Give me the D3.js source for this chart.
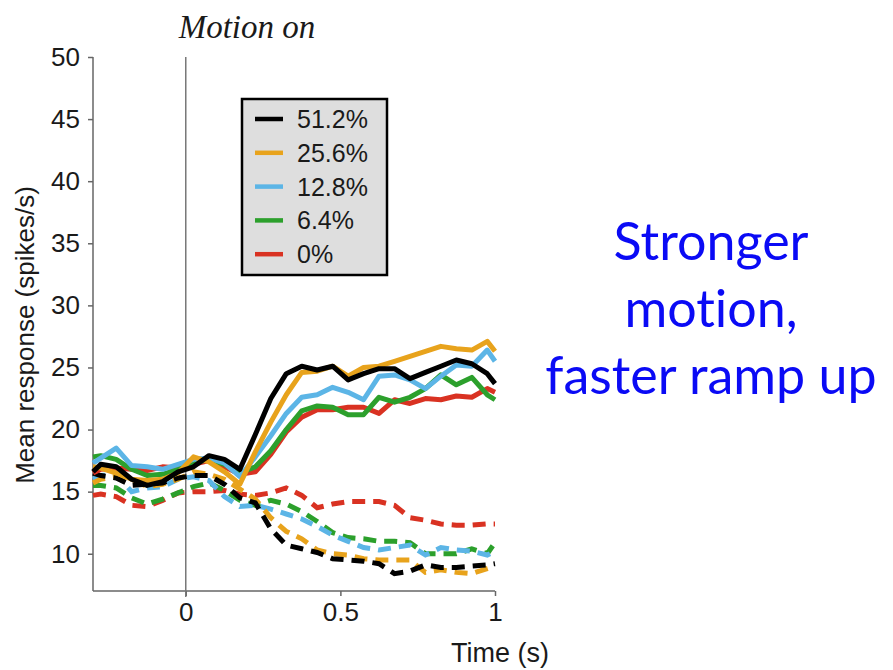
<!DOCTYPE html>
<html lang="en">
  <head>
    <meta charset="UTF-8" />
    <title>Motion on</title>
    <script src="https://cdn.jsdelivr.net/npm/d3@7"></script>
    <style>
      body { margin: 0; background: #fff; }
    </style>
  </head>
  <body>
    <svg id="svg" width="893" height="670"></svg>
    <script>
      // bin centres (s), plus the two ends of the window
      const times = [-0.3, -0.275, -0.225, -0.175, -0.125, -0.075, -0.025, 0.025, 0.075, 0.125,
        0.175, 0.225, 0.275, 0.325, 0.375, 0.425, 0.475, 0.525, 0.575, 0.625,
        0.675, 0.725, 0.775, 0.825, 0.875, 0.925, 0.975, 1.0];

      const coherences = ["51.2%", "25.6%", "12.8%", "6.4%", "0%"];
      const colors = ["#000000", "#e8a31c", "#5cb5e6", "#2ca02c", "#d93222"];

      // solid = preferred direction
      const pref512 = [16.6, 17.2, 17.0, 16.0, 15.5, 15.8, 16.6, 17.0, 17.9, 17.6, 16.8, 19.6, 22.5, 24.5,
        25.1, 24.8, 25.1, 24.0, 24.5, 24.9, 24.9, 24.1, 24.6, 25.1, 25.6, 25.3, 24.5, 23.7];
      const pref256 = [17.0, 16.9, 16.5, 16.0, 15.9, 16.0, 16.5, 17.8, 17.4, 16.6, 15.6, 18.2, 20.6, 22.8,
        24.6, 24.7, 25.1, 24.3, 25.0, 25.1, 25.5, 25.9, 26.3, 26.7, 26.5, 26.4, 27.1, 26.3];
      const pref128 = [17.3, 17.7, 18.5, 17.1, 17.0, 16.8, 17.2, 17.6, 17.7, 17.3, 16.2, 17.8, 19.5, 21.3,
        22.6, 22.8, 23.4, 23.0, 22.4, 24.3, 24.4, 24.0, 23.3, 24.3, 25.2, 25.1, 26.4, 25.5];
      const pref64 = [17.8, 17.9, 17.6, 16.8, 16.3, 16.4, 16.8, 17.3, 17.6, 17.2, 16.5, 17.0, 18.3, 20.0,
        21.5, 21.9, 21.8, 21.2, 21.2, 22.6, 22.2, 22.6, 23.3, 24.4, 23.6, 24.2, 22.8, 22.4];
      const pref0 = [16.5, 16.8, 16.9, 16.8, 16.7, 17.0, 16.9, 17.2, 17.5, 17.0, 16.4, 16.6, 18.0, 19.8,
        21.0, 21.6, 21.6, 21.8, 21.8, 21.3, 22.4, 22.1, 22.5, 22.4, 22.7, 22.6, 23.3, 23.0];

      // dashed = null direction
      const null512 = [16.5, 16.3, 16.1, 15.5, 15.6, 15.7, 16.1, 16.3, 16.3, 15.6, 14.5, 14.1, 12.0, 10.7,
        10.4, 10.1, 9.6, 9.5, 9.4, 9.2, 8.4, 8.6, 9.1, 8.9, 8.9, 9.0, 9.1, 9.2];
      const null256 = [15.7, 16.0, 16.2, 16.0, 15.4, 15.6, 16.0, 16.6, 16.4, 16.0, 15.2, 14.4, 12.9, 11.8,
        11.2, 10.3, 10.0, 9.9, 9.6, 9.5, 9.5, 9.5, 8.5, 8.7, 8.5, 8.4, 8.8, 9.0];
      const null128 = [16.0, 16.3, 16.4, 15.0, 15.3, 15.4, 16.0, 16.2, 15.9, 14.6, 13.8, 13.9, 13.6, 13.2,
        12.8, 12.2, 11.5, 11.0, 10.5, 10.3, 10.5, 10.7, 9.9, 10.5, 10.3, 10.2, 9.9, 10.2];
      const null64 = [15.5, 15.5, 15.3, 14.5, 14.0, 14.4, 14.9, 15.4, 15.7, 15.1, 14.3, 13.9, 14.3, 14.0,
        13.4, 12.6, 11.7, 11.3, 11.2, 11.0, 11.0, 10.9, 10.0, 10.0, 10.0, 10.4, 10.0, 10.9];
      const null0 = [14.7, 14.8, 14.6, 13.9, 13.8, 14.3, 14.9, 15.0, 15.0, 15.1, 14.8, 14.7, 14.9, 15.3,
        14.7, 13.7, 14.0, 14.2, 14.2, 14.2, 13.9, 12.9, 12.7, 12.4, 12.3, 12.3, 12.4, 12.4];

      const prefSeries = [pref512, pref256, pref128, pref64, pref0];
      const nullSeries = [null512, null256, null128, null64, null0];

      const yTicks = [10, 15, 20, 25, 30, 35, 40, 45, 50];
      const xTicks = [0, 0.5, 1];

      const x = d3.scaleLinear().domain([-0.3, 1]).range([93, 495]);
      const y = d3.scaleLinear().domain([7, 50]).range([591, 57]);

      const svg = d3.select("#svg");
      const font = "'Liberation Sans', Arial, sans-serif";

      // axes
      const gx = svg.append("g").attr("transform", "translate(0,591)")
        .call(d3.axisBottom(x).tickValues(xTicks).tickFormat(d3.format("")).tickSizeOuter(0).tickSize(5).tickPadding(7));
      const gy = svg.append("g").attr("transform", "translate(93,0)")
        .call(d3.axisLeft(y).tickValues(yTicks).tickSizeOuter(0).tickSize(5).tickPadding(8));
      [gx, gy].forEach(g => {
        g.select(".domain").attr("stroke", "#666").attr("stroke-width", 1.5);
        g.selectAll(".tick line").attr("stroke", "#666").attr("stroke-width", 1.5);
        g.selectAll("text").attr("font-family", font).attr("font-size", 26).attr("fill", "#1a1a1a");
      });
      gx.select(".domain").attr("d", "M93,0H495");
      gy.select(".domain").attr("d", "M0,57V591");

      // motion onset
      svg.append("line")
        .attr("x1", x(0)).attr("x2", x(0))
        .attr("y1", 57).attr("y2", 597)
        .attr("stroke", "#777").attr("stroke-width", 1.5);

      const line = d3.line().x((d, i) => x(times[i])).y(d => y(d));

      // draw null (dashed) first, from 0% up to 51.2%
      for (let i = nullSeries.length - 1; i >= 0; i--) {
        svg.append("path").datum(nullSeries[i])
          .attr("d", line).attr("fill", "none")
          .attr("stroke", colors[i]).attr("stroke-width", 5)
          .attr("stroke-dasharray", "13,8");
      }
      for (let i = prefSeries.length - 1; i >= 0; i--) {
        svg.append("path").datum(prefSeries[i])
          .attr("d", line).attr("fill", "none")
          .attr("stroke", colors[i]).attr("stroke-width", 5)
          .attr("stroke-linejoin", "round");
      }

      // legend
      const lg = svg.append("g").attr("transform", "translate(242,99)");
      lg.append("rect").attr("width", 145).attr("height", 176)
        .attr("fill", "#dedede").attr("stroke", "#000").attr("stroke-width", 2.5);
      coherences.forEach((c, i) => {
        const yy = 20 + i * 33.8;
        lg.append("line").attr("x1", 13).attr("x2", 41).attr("y1", yy).attr("y2", yy)
          .attr("stroke", colors[i]).attr("stroke-width", 4.5);
        lg.append("text").attr("x", 55).attr("y", yy + 9).text(c)
          .attr("font-family", font).attr("font-size", 25).attr("fill", "#1a1a1a");
      });

      // titles
      svg.append("text").attr("x", 247).attr("y", 38).attr("text-anchor", "middle")
        .attr("font-family", "'Liberation Serif', 'Times New Roman', serif")
        .attr("font-style", "italic").attr("font-size", 33).attr("fill", "#1a1a1a").text("Motion on");

      svg.append("text").attr("x", 500).attr("y", 662).attr("text-anchor", "middle")
        .attr("font-family", font).attr("font-size", 27).attr("fill", "#1a1a1a").text("Time (s)");

      svg.append("text").attr("transform", "translate(34,335) rotate(-90)")
        .attr("text-anchor", "middle").attr("font-family", font).attr("font-size", 26)
        .attr("fill", "#1a1a1a").text("Mean response (spikes/s)");

      // annotation on the right
      const note = ["Stronger", "motion,", "faster ramp up"];
      svg.append("g").selectAll("text").data(note).enter().append("text")
        .attr("x", 711).attr("y", (d, i) => 260 + i * 67)
        .attr("text-anchor", "middle")
        .attr("font-family", "Lato, 'Open Sans', sans-serif")
        .style("font-variant-ligatures", "none")
        .attr("font-size", 52).attr("fill", "#0a0af5")
        .text(d => d);
    </script>
  </body>
</html>
